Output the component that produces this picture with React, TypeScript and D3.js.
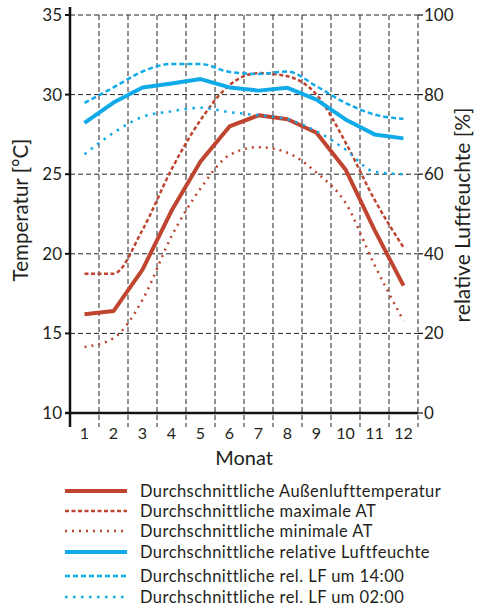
import React from "react";
import * as d3 from "d3";

// Monthly climate data
const months = [1, 2, 3, 4, 5, 6, 7, 8, 9, 10, 11, 12];
const tempAvg = [16.2, 16.4, 19.0, 22.7, 25.8, 28.0, 28.7, 28.45, 27.6, 25.3, 21.5, 18.0];
const tempMax = [18.75, 18.75, 21.5, 25.3, 28.4, 30.6, 31.35, 31.15, 30.0, 27.0, 23.4, 20.4];
const tempMin = [14.15, 14.7, 17.1, 21.1, 24.1, 26.2, 26.7, 26.35, 25.1, 23.2, 19.3, 15.8];
const rhAvg = [72.9, 78.0, 81.8, 82.8, 83.9, 81.8, 81.0, 81.7, 78.75, 73.75, 70.0, 69.0];
const rh14 = [77.9, 81.8, 85.8, 87.7, 87.7, 85.7, 85.2, 85.8, 82.1, 77.9, 75.0, 73.9];
const rh02 = [65.0, 70.4, 74.4, 75.8, 76.7, 75.6, 74.8, 73.8, 70.8, 66.2, 60.6, 60.0];

const tempTicks = [10, 15, 20, 25, 30, 35];
const rhTicks = [0, 20, 40, 60, 80, 100];

const legendLabels = [
  "Durchschnittliche Außenlufttemperatur",
  "Durchschnittliche maximale AT",
  "Durchschnittliche minimale AT",
  "Durchschnittliche relative Luftfeuchte",
  "Durchschnittliche rel. LF um 14:00",
  "Durchschnittliche rel. LF um 02:00",
];

const RED = "#bf4530";
const BLUE = "#11aae8";
const TEXT = "#231f20";
const FONT = "Lato, 'Open Sans', sans-serif";

type Style = { color: string; width: number; dash: string | null; curve: d3.CurveFactory; axis: "t" | "h" };

const seriesStyles: Style[] = [
  { color: RED, width: 4, dash: null, curve: d3.curveLinear, axis: "t" },
  { color: RED, width: 2.5, dash: "4,2.5", curve: d3.curveMonotoneX, axis: "t" },
  { color: RED, width: 2.5, dash: "2,5", curve: d3.curveMonotoneX, axis: "t" },
  { color: BLUE, width: 4, dash: null, curve: d3.curveLinear, axis: "h" },
  { color: BLUE, width: 2.5, dash: "5,3", curve: d3.curveMonotoneX, axis: "h" },
  { color: BLUE, width: 2.5, dash: "2.5,5.5", curve: d3.curveMonotoneX, axis: "h" },
];
const seriesData = [tempAvg, tempMax, tempMin, rhAvg, rh14, rh02];

const W = 477;
const H = 608;
const left = 70;
const right = 418;
const top = 15;
const bottom = 413;

export default function App() {
  const x = d3.scaleLinear().domain([0.5, 12.5]).range([left, right]);
  const yT = d3.scaleLinear().domain([10, 35]).range([bottom, top]);
  const yH = d3.scaleLinear().domain([0, 100]).range([bottom, top]);

  const legendY = [491, 511, 531, 552, 576, 597];

  return (
    <svg
      width={W}
      height={H}
      style={{ position: "absolute", left: 0, top: 0, background: "#fff" }}
      fontFamily={FONT}
    >
      {/* horizontal grid */}
      {tempTicks
        .filter((t) => t > 10)
        .map((t) => (
          <line key={"h" + t} x1={left} x2={right} y1={yT(t)} y2={yT(t)} stroke="#222" strokeWidth={1} strokeDasharray="5,3" />
        ))}
      {/* vertical grid between months, plus right border */}
      {months.map((m) => (
        <line key={"v" + m} x1={x(m + 0.5)} x2={x(m + 0.5)} y1={top} y2={bottom + 14} stroke="#222" strokeWidth={1} strokeDasharray="5,3" />
      ))}

      {/* series lines */}
      {seriesData.map((vals, i) => {
        const s = seriesStyles[i];
        const y = s.axis === "t" ? yT : yH;
        const gen = d3
          .line<number>()
          .x((_, j) => x(months[j]))
          .y((v) => y(v))
          .curve(s.curve);
        return (
          <path
            key={"s" + i}
            d={gen(vals) || ""}
            fill="none"
            stroke={s.color}
            strokeWidth={s.width}
            strokeDasharray={s.dash || undefined}
            strokeLinejoin="round"
          />
        );
      })}

      {/* left axis */}
      <line x1={left} x2={left} y1={top - 8} y2={bottom + 14} stroke="#111" strokeWidth={2.5} />
      <line x1={left - 5} x2={right} y1={bottom} y2={bottom} stroke="#111" strokeWidth={2.5} />
      {tempTicks.map((t) => (
        <g key={"lt" + t}>
          <line x1={left - 5} x2={left} y1={yT(t)} y2={yT(t)} stroke="#111" strokeWidth={2} />
          <text x={left - 8} y={yT(t) + 6} textAnchor="end" fontSize={17} fill={TEXT}>
            {t}
          </text>
        </g>
      ))}
      {/* right axis ticks */}
      {rhTicks.map((t) => (
        <g key={"rt" + t}>
          <line x1={right} x2={right + 5} y1={yH(t)} y2={yH(t)} stroke="#111" strokeWidth={1.2} />
          <text x={right + 6} y={yH(t) + 6} textAnchor="start" fontSize={17} fill={TEXT}>
            {t}
          </text>
        </g>
      ))}
      {/* month labels */}
      {months.map((m) => (
        <text key={"m" + m} x={x(m)} y={bottom + 26} textAnchor="middle" fontSize={16} fill={TEXT}>
          {m}
        </text>
      ))}

      {/* axis titles */}
      <text x={244} y={465} textAnchor="middle" fontSize={20} fill={TEXT}>
        Monat
      </text>
      <text transform={`translate(28,210) rotate(-90)`} textAnchor="middle" fontSize={20.5} fill={TEXT}>
        Temperatur [°C]
      </text>
      <text transform={`translate(470,215) rotate(-90)`} textAnchor="middle" fontSize={21} fill={TEXT}>
        relative Luftfeuchte [%]
      </text>

      {/* legend */}
      {legendLabels.map((lab, i) => {
        const s = seriesStyles[i];
        const ly = legendY[i];
        return (
          <g key={"lg" + i}>
            <line x1={65} x2={127} y1={ly} y2={ly} stroke={s.color} strokeWidth={s.width} strokeDasharray={s.dash || undefined} />
            <text x={140} y={ly + 5.5} fontSize={16.5} letterSpacing={0.45} fill={TEXT}>
              {lab}
            </text>
          </g>
        );
      })}
    </svg>
  );
}
